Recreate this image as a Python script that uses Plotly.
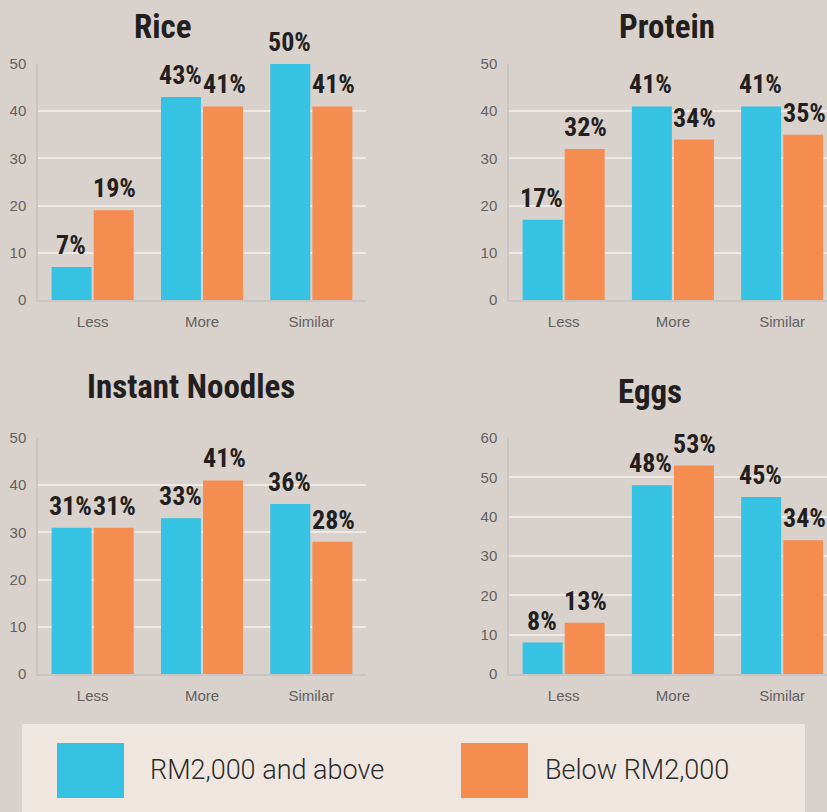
import plotly.graph_objects as go

# ---- data ----
categories = ["Less", "More", "Similar"]
series_names = ["RM2,000 and above", "Below RM2,000"]

rice_high = [7, 43, 50]
rice_low = [19, 41, 41]
protein_high = [17, 41, 41]
protein_low = [32, 34, 35]
noodles_high = [31, 33, 36]
noodles_low = [31, 41, 28]
eggs_high = [8, 48, 45]
eggs_low = [13, 53, 34]

panel_titles = ["Rice", "Protein", "Instant Noodles", "Eggs"]
panel_ymax = [50, 50, 50, 60]

# ---- style ----
W, H = 827, 812
BG = "#d9d1cb"
BLUE = "#36c2e3"
ORANGE = "#f58d50"
DARK = "#231f20"
GREY = "#616161"
COND = "Roboto Condensed, Open Sans Condensed, Roboto, sans-serif"
SANS = "Liberation Sans, Arial, sans-serif"


def px_x(x):
    return x / W


def px_y(y):
    return 1 - y / H


# panel geometry in pixels: (x0, x1, y_top, y_bottom, x range end)
panels = [
    (38, 366, 64, 300, 2.5),
    (509, 827, 64, 300, 2.41),
    (38, 366, 438, 674, 2.5),
    (509, 827, 438, 674, 2.41),
]
title_pos = [(163, 26), (667, 26), (191, 387), (650, 391)]
values = [
    (rice_high, rice_low),
    (protein_high, protein_low),
    (noodles_high, noodles_low),
    (eggs_high, eggs_low),
]

fig = go.Figure()
annotations = []
layout_axes = {}

for i, ((hi, lo), geo, ymax, title, tpos) in enumerate(
        zip(values, panels, panel_ymax, panel_titles, title_pos)):
    n = "" if i == 0 else str(i + 1)
    xa, ya = "x" + n, "y" + n
    x0, x1, yt, yb, xend = geo
    for vals, color, name in ((hi, BLUE, series_names[0]), (lo, ORANGE, series_names[1])):
        fig.add_trace(go.Bar(
            x=categories, y=vals, name=name, marker=dict(color=color, line_width=0),
            xaxis=xa, yaxis=ya, showlegend=False, cliponaxis=False,
        ))
    # value labels
    for vals, shift in ((hi, -22), (lo, 22)):
        for c, v in zip(categories, vals):
            annotations.append(dict(
                x=c, y=v, xref=xa, yref=ya, text=f"{v}%", showarrow=False,
                xshift=shift, yshift=5, yanchor="bottom", xanchor="center",
                font=dict(family=COND, size=26, color=DARK, weight=700),
            ))
    # panel title
    annotations.append(dict(
        x=px_x(tpos[0]), y=px_y(tpos[1]), xref="paper", yref="paper",
        text=title, showarrow=False, xanchor="center", yanchor="middle",
        font=dict(family=COND, size=33, color=DARK, weight=700),
    ))
    layout_axes["xaxis" + n] = dict(
        domain=[px_x(x0), min(px_x(x1), 1)], anchor=ya, type="category",
        range=[-0.5, xend], showgrid=False, showline=True, linecolor="#c8c6c4",
        linewidth=1.5, ticks="", ticklabelstandoff=7, automargin=False,
        tickfont=dict(family=SANS, size=15, color=GREY), fixedrange=True,
    )
    layout_axes["yaxis" + n] = dict(
        domain=[px_y(yb), px_y(yt)], anchor=xa, range=[0, ymax], dtick=10,
        showgrid=True, gridcolor="#eee9e4", gridwidth=1.5, zeroline=False,
        showline=True, linecolor="#c8c6c4", linewidth=1.5, ticks="",
        ticklabelstandoff=7, automargin=False,
        tickfont=dict(family=SANS, size=15, color=GREY), fixedrange=True,
    )

# custom legend panel
shapes = [
    dict(type="rect", xref="paper", yref="paper", x0=px_x(22), x1=px_x(805),
         y0=0, y1=px_y(724), fillcolor="#efe7df", line_width=0, layer="below"),
    dict(type="rect", xref="paper", yref="paper", x0=px_x(57), x1=px_x(124),
         y0=px_y(798), y1=px_y(743), fillcolor=BLUE, line_width=0),
    dict(type="rect", xref="paper", yref="paper", x0=px_x(461), x1=px_x(528),
         y0=px_y(798), y1=px_y(743), fillcolor=ORANGE, line_width=0),
]
for name, lx in zip(series_names, (148, 543)):
    annotations.append(dict(
        x=px_x(lx), y=px_y(770), xref="paper", yref="paper", text=name,
        showarrow=False, xanchor="left", yanchor="middle",
        font=dict(family="Roboto, sans-serif", size=27, color="#2b2b2b", weight=300),
    ))

fig.update_layout(
    width=W, height=H, margin=dict(l=0, r=0, t=0, b=0, autoexpand=False),
    paper_bgcolor=BG, plot_bgcolor=BG,
    barmode="group", bargap=0.23, bargroupgap=0.05,
    annotations=annotations, shapes=shapes, **layout_axes,
)

# pin the figure to the page corner (no default body margin)
pin = ("document.body.style.margin='0';document.body.style.overflow='hidden';"
       "var d=document.getElementById('{plot_id}');"
       "d.style.position='absolute';d.style.left='0px';d.style.top='0px';")
fig.write_html("out.html", post_script=pin, config={"displayModeBar": False})
